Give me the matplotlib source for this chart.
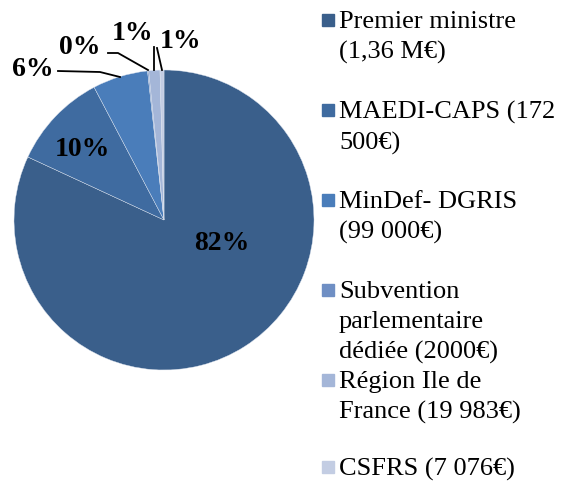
import numpy as np
import matplotlib.pyplot as plt

labels = ["Premier ministre\n(1,36 M€)", "MAEDI-CAPS (172\n500€)", "MinDef- DGRIS\n(99 000€)",
          "Subvention\nparlementaire\ndédiée (2000€)", "Région Ile de\nFrance (19 983€)", "CSFRS (7 076€)"]
values = np.array([1360000, 172500, 99000, 2000, 19983, 7076])
pct_labels = ["82%", "10%", "6%", "0%", "1%", "1%"]
colors = ["#3a5f8b", "#3f6ba0", "#4a7dba", "#6f8fc4", "#a4b6d8", "#c3cde3"]

W, H = 561, 482
fig = plt.figure(figsize=(W / 100, H / 100), dpi=100)

# pie centre (164, 220) px, radius 150 px
cx, cy, r = 164, 220, 150
ax = fig.add_axes([(cx - r) / W, (H - cy - r) / H, 2 * r / W, 2 * r / H])
ax.pie(values, colors=colors, startangle=90, counterclock=False, radius=1,
       wedgeprops=dict(edgecolor="#dde4ef", linewidth=0.3))
ax.set_xlim(-1, 1)
ax.set_ylim(-1, 1)
ax.set_aspect("equal")
ax.axis("off")


def px(x, y):
    return (x - cx) / r, (cy - y) / r


# percentage labels
lab_pos = [(222, 243), (82, 150), (33, 69), (80, 48), (133, 34), (181, 41)]
for t, (x, y) in zip(pct_labels, lab_pos):
    lx, ly = px(x, y)
    ax.text(lx, ly, t, ha="center", va="center", fontsize=20, fontweight="bold",
            family="Liberation Serif", color="black", clip_on=False)

# leader lines
leaders = [[(58, 71), (100, 72), (120, 77)],
           [(108, 53), (118, 53), (148, 70)],
           [(154, 47), (154, 70)],
           [(157, 48), (162, 70)]]
for pts in leaders:
    xs, ys = zip(*[px(x, y) for x, y in pts])
    ax.plot(xs, ys, color="black", lw=1.3, clip_on=False)

# legend drawn by hand (y = first-line baseline in px)
baselines = [31, 121, 211, 301, 391, 478]
for lab, col, y in zip(labels, colors, baselines):
    fig.patches.append(plt.Rectangle((322 / W, 1 - (y - 5) / H), 12 / W, 12 / H,
                                     transform=fig.transFigure, color=col))
    fig.text(339 / W, 1 - (y - 20) / H, lab, ha="left", va="top", fontsize=19,
             family="Liberation Serif", linespacing=1.45, color="black")

plt.savefig("out.png", dpi=100)
